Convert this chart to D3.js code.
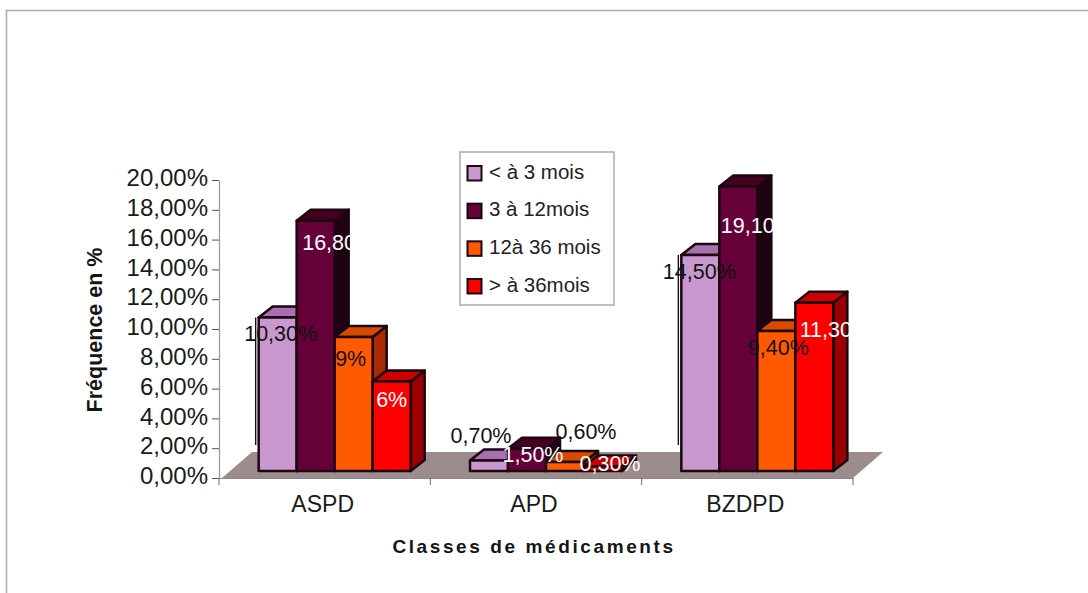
<!DOCTYPE html>
<html><head><meta charset="utf-8">
<script src="https://cdn.jsdelivr.net/npm/d3@7"></script>
<style>html,body{margin:0;padding:0;background:#fff}svg{display:block}text{font-family:"Liberation Sans",Arial,sans-serif}</style>
</head><body><svg id="c" width="1088" height="593"></svg>
<script>
const categories = ["ASPD","APD","BZDPD"];
const seriesNames = ["< à 3 mois","3 à 12mois","12à 36 mois","> à 36mois"];
const s1 = [10.3,0.7,14.5];
const s2 = [16.8,1.5,19.1];
const s3 = [9,0.6,9.4];
const s4 = [6,0.3,11.3];
const labels1 = ["10,30%","0,70%","14,50%"];
const labels2 = ["16,80%","1,50%","19,10%"];
const labels3 = ["9%","0,60%","9,40%"];
const labels4 = ["6%","0,30%","11,30%"];
const yTicks = [0,2,4,6,8,10,12,14,16,18,20];

const seriesVals=[s1,s2,s3,s4], seriesLabels=[labels1,labels2,labels3,labels4];
const frontCol=["#C898CE","#660038","#FF5A00","#FF0000"];
const topCol=["#A870AE","#45001F","#D84A00","#CC0000"];
const sideCol=["#8A5C90","#1E0410","#A82A00","#9A0000"];
const labelCol=["#111","#fff","#111","#fff"];
// label nudges [dx, dy from bar centre/top] per category & series
const nudge=[
 [[3,23],[23,29],[-3,29],[0,25]],
 [[-8,-18],[6,13],[21,-23],[7,4]],
 [[-1,24],[19,47],[2,24],[21,34]]];

const svg=d3.select("#c");
const y=d3.scaleLinear().domain([0,20]).range([478,180]);
const x=d3.scaleBand().domain(categories).range([219,853]);
const inner=d3.scaleBand().domain(d3.range(4)).range([0,152]);
const floorD=[30,-26], depth=[14,-11], base=[0,-7];
const fmt=d=>d3.format(".2f")(d).replace(".",",")+"%";

// outer frame
svg.append("path").attr("d","M6.5,593V10.5H1088").attr("fill","none").attr("stroke","#b0b0b0").attr("stroke-width",1.6);

// floor
const [xa,xb]=x.range();
svg.append("path").attr("d",`M${xa+3},${y(0)}L${xa+3+floorD[0]},${y(0)+floorD[1]}H${xb+floorD[0]}L${xb},${y(0)}Z`)
  .attr("fill","#9C8C8C").attr("stroke","none");

// axes
const ga=svg.append("g").attr("transform",`translate(${xa},0)`)
  .call(d3.axisLeft(y).tickValues(yTicks).tickSize(7).tickSizeOuter(0).tickFormat(fmt));
ga.select(".domain").attr("stroke","#999").attr("stroke-width",1.2);
ga.selectAll("line").attr("stroke","#555");
ga.selectAll("text").attr("font-size",24).attr("fill","#1a1a1a").attr("x",-11).attr("dy","0.24em")
  .style("font-family",'"Liberation Sans"');

const gx=svg.append("g").attr("transform",`translate(0,${y(0)})`)
  .call(d3.axisBottom(x).tickSize(0).tickSizeOuter(0).tickPadding(18));
gx.select(".domain").attr("stroke","#888").attr("stroke-width",1.2);
gx.selectAll("text").attr("font-size",23).attr("fill","#1a1a1a").attr("dx",-2).style("font-family",'"Liberation Sans"');
svg.append("g").selectAll("line").data(categories.map(c=>x(c)).concat([xb])).join("line")
  .attr("x1",d=>d).attr("x2",d=>d).attr("y1",y(0)).attr("y2",y(0)+7).attr("stroke","#666");

// bars
const groupLeft=c=>x(c)+x.bandwidth()/2-76+10;
categories.forEach((c,ci)=>{
  const g=svg.append("g");
  seriesVals.forEach((vals,si)=>{
    const bx=groupLeft(c)+inner(si), bw=inner.bandwidth();
    const y0=y(0)+base[1], y1=y(vals[ci])+base[1];
    const st={stroke:"#1c0612","stroke-width":2.5,"stroke-linejoin":"round"};
    const add=(d,f)=>{const p=g.append("path").attr("d",d).attr("fill",f);Object.entries(st).forEach(([k,v])=>p.attr(k,v));};
    add(`M${bx+bw},${y1}L${bx+bw+depth[0]},${y1+depth[1]}V${y0+depth[1]}L${bx+bw},${y0}Z`,sideCol[si]);
    add(`M${bx},${y1}L${bx+depth[0]},${y1+depth[1]}H${bx+bw+depth[0]}L${bx+bw},${y1}Z`,topCol[si]);
    add(`M${bx},${y1}H${bx+bw}V${y0}H${bx}Z`,frontCol[si]);
  });
});
// data labels
categories.forEach((c,ci)=>{
  seriesVals.forEach((vals,si)=>{
    const bx=groupLeft(c)+inner(si)+inner.bandwidth()/2;
    svg.append("text").text(seriesLabels[si][ci])
      .attr("x",bx+nudge[ci][si][0]).attr("y",y(vals[ci])-7+nudge[ci][si][1])
      .attr("text-anchor","middle").attr("font-size",21.5).attr("fill",labelCol[si]);
  });
});

// edge lines left of the tall pale bars
[0,2].forEach(ci=>{
  const bx=groupLeft(categories[ci]);
  svg.append("line").attr("x1",bx-3).attr("x2",bx-3)
    .attr("y1",y(s1[ci])-7).attr("y2",445).attr("stroke","#111").attr("stroke-width",1.4);
});

// axis titles
svg.append("text").text("Fréquence en %").attr("transform","translate(102,330) rotate(-90)")
  .attr("text-anchor","middle").attr("font-size",21.5).attr("font-weight","bold").attr("fill","#151515");
svg.append("text").text("Classes de médicaments").attr("x",534).attr("y",553)
  .attr("text-anchor","middle").attr("font-size",19).attr("font-weight","bold").attr("letter-spacing",2.6).attr("fill","#151515");

// legend
svg.append("rect").attr("x",460).attr("y",152).attr("width",154).attr("height",153)
  .attr("fill","#fff").attr("stroke","#aaa").attr("stroke-width",1.5);
const rowY=d3.scalePoint().domain(seriesNames).range([172,285]);
seriesNames.forEach((n,i)=>{
  svg.append("rect").attr("x",467.5).attr("y",rowY(n)-6).attr("width",14).attr("height",14.5)
    .attr("fill",frontCol[i]).attr("stroke","#1c0612").attr("stroke-width",2);
  svg.append("text").text(n).attr("x",489).attr("y",rowY(n)+6.5).attr("font-size",20.5).attr("fill","#222");
});
</script></body></html>
